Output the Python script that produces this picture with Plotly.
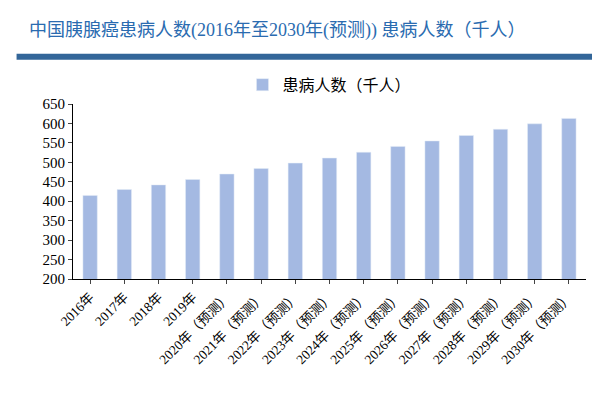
import plotly.graph_objects as go

years = ["2016年", "2017年", "2018年", "2019年"] + [f"{y}年（预测）" for y in range(2020, 2031)]
patients = [415, 430, 442, 456, 470, 484, 498, 511, 526, 541, 555, 569, 585, 599, 613]
series_name = "患病人数（千人）"
y_ticks = [200, 250, 300, 350, 400, 450, 500, 550, 600, 650]

font_cn = "Liberation Serif, Noto Sans CJK SC"

fig = go.Figure(go.Bar(x=years, y=patients, name=series_name,
                       marker_color="#a4b9e2", width=0.42))

fig.update_layout(
    width=600, height=400,
    margin=dict(l=65, r=22, t=96, b=129),
    plot_bgcolor="white", paper_bgcolor="white",
    font=dict(family=font_cn, size=13, color="black"),
    showlegend=True,
    legend=dict(orientation="h", x=0.5, xanchor="center", y=1.11, yanchor="middle",
                font=dict(size=16)),
)
fig.update_yaxes(range=[200, 650], tickvals=y_ticks, showgrid=False, automargin=False,
                 showline=True, linecolor="black", ticks="outside", ticklen=4,
                 tickfont=dict(size=15))
fig.update_xaxes(tickangle=-45, showline=True, linecolor="black", ticks="outside",
                 ticklen=4, tickfont=dict(size=13.5), automargin=False)

fig.add_annotation(text="中国胰腺癌患病人数(2016年至2030年(预测)) 患病人数（千人）",
                   xref="paper", yref="paper", x=-0.09, y=1.0, yshift=74,
                   xanchor="left", yanchor="middle", showarrow=False,
                   font=dict(size=18, color="#2a6bb0", family=font_cn))
fig.add_shape(type="line", xref="paper", yref="paper", x0=-0.11, x1=1.04,
              y0=1.27, y1=1.27, line=dict(color="#336699", width=6))

fig.write_html("out.html")
